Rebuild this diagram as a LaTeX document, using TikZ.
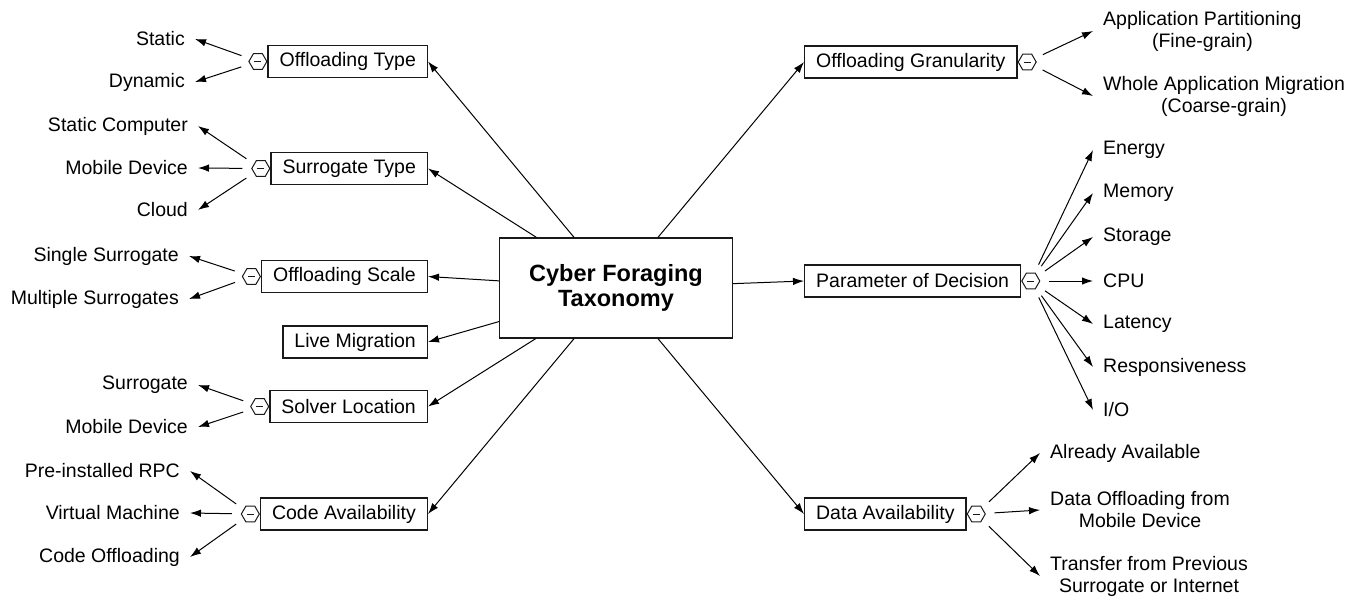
\documentclass[tikz,border=0pt]{standalone}
\usepackage{fontspec}
\setmainfont{Liberation Sans}
\usetikzlibrary{shapes.geometric, arrows.meta, positioning}

\begin{document}
\begin{tikzpicture}[x=1pt, y=-1pt,
  every node/.style={text=black, font=\fontsize{19.5}{22}\selectfont},
  root/.style={draw=black!90, line width=1.3pt, minimum width=233pt, minimum height=100pt, align=center, font=\fontsize{23.5}{25}\selectfont\bfseries},
  cat/.style={draw=black!90, line width=1.3pt, inner xsep=11.5pt, inner ysep=0pt, minimum height=32pt},
  leaf/.style={inner xsep=10pt, inner ysep=2pt, align=center},
  toggle/.style={draw=black!90, line width=1pt, regular polygon, regular polygon sides=6, minimum size=18pt, inner sep=0pt,
    path picture={\draw[line width=1pt] ([xshift=-3.5pt]path picture bounding box.center) -- ([xshift=3.5pt]path picture bounding box.center);}},
  link/.style={draw=black, line width=1pt, -{Latex[length=11pt,width=7.5pt]}},
  branch/.style={link, shorten <=9pt}]

\path[use as bounding box] (0,0) rectangle (1356,597);

% centre
\node[root] (root) at (616,288) {Cyber Foraging\\Taxonomy};

% left categories
\node[cat, anchor=east] (otype) at (428,61.5) {Offloading Type};
\node[cat, anchor=east] (stype) at (428,168.5) {Surrogate Type};
\node[cat, anchor=east] (oscale) at (428,276.5) {Offloading Scale};
\node[cat, anchor=east] (live) at (428,342) {Live Migration};
\node[cat, anchor=east] (solver) at (428,406.5) {Solver Location};
\node[cat, anchor=east] (code) at (428,514) {Code Availability};

% right categories
\node[cat, anchor=west] (gran) at (804,62) {Offloading Granularity};
\node[cat, anchor=west] (param) at (804,281) {Parameter of Decision};
\node[cat, anchor=west] (data) at (804,514) {Data Availability};

% collapse marks
\node[toggle, left=0pt of otype] (otypeT) {};
\node[toggle, left=0pt of stype] (stypeT) {};
\node[toggle, left=0pt of oscale] (oscaleT) {};
\node[toggle, left=0pt of solver] (solverT) {};
\node[toggle, left=0pt of code] (codeT) {};
\node[toggle, right=0pt of gran] (granT) {};
\node[toggle, right=0pt of param] (paramT) {};
\node[toggle, right=0pt of data] (dataT) {};

% left leaves
\node[leaf, anchor=east] (static) at (195,39) {Static};
\node[leaf, anchor=east] (dynamic) at (195,82) {Dynamic};
\node[leaf, anchor=east] (scomp) at (198,126) {Static Computer};
\node[leaf, anchor=east] (smob) at (198,168) {Mobile Device};
\node[leaf, anchor=east] (scloud) at (198,210) {Cloud};
\node[leaf, anchor=east] (single) at (189,256) {Single Surrogate};
\node[leaf, anchor=east] (multi) at (189,299) {Multiple Surrogates};
\node[leaf, anchor=east] (solsur) at (198,385) {Surrogate};
\node[leaf, anchor=east] (solmob) at (198,427) {Mobile Device};
\node[leaf, anchor=east] (rpc) at (190,471) {Pre-installed RPC};
\node[leaf, anchor=east] (vm) at (190,513) {Virtual Machine};
\node[leaf, anchor=east] (codeoff) at (190,557) {Code Offloading};

% right leaves
\node[leaf, anchor=west] (fine) at (1093,31) {Application Partitioning\\(Fine-grain)};
\node[leaf, anchor=west] (coarse) at (1093,96) {Whole Application Migration\\(Coarse-grain)};
\node[leaf, anchor=west] (energy) at (1093,150) {Energy};
\node[leaf, anchor=west] (memory) at (1093,193) {Memory};
\node[leaf, anchor=west] (storage) at (1093,237) {Storage};
\node[leaf, anchor=west] (cpu) at (1093,281) {CPU};
\node[leaf, anchor=west] (latency) at (1093,324) {Latency};
\node[leaf, anchor=west] (resp) at (1093,367) {Responsiveness};
\node[leaf, anchor=west] (io) at (1093,410) {I/O};
\node[leaf, anchor=west] (avail) at (1040,453) {Already Available};
\node[leaf, anchor=west] (dataoff) at (1040,510) {Data Offloading from\\Mobile Device};
\node[leaf, anchor=west] (transfer) at (1040,576) {Transfer from Previous\\Surrogate or Internet};

% centre to categories
\draw[link] (root) -- (otype.east);
\draw[link] (root) -- (stype.east);
\draw[link] (root) -- (oscale.east);
\draw[link] (root) -- (live.east);
\draw[link] (root) -- (solver.east);
\draw[link] (root) -- (code.east);
\draw[link] (root) -- (gran.west);
\draw[link] (root) -- (param.west);
\draw[link] (root) -- (data.west);

% categories to leaves
\draw[branch] (otypeT) -- (static.east);
\draw[branch] (otypeT) -- (dynamic.east);
\draw[branch] (stypeT) -- (scomp.east);
\draw[branch] (stypeT) -- (smob.east);
\draw[branch] (stypeT) -- (scloud.east);
\draw[branch] (oscaleT) -- (single.east);
\draw[branch] (oscaleT) -- (multi.east);
\draw[branch] (solverT) -- (solsur.east);
\draw[branch] (solverT) -- (solmob.east);
\draw[branch] (codeT) -- (rpc.east);
\draw[branch] (codeT) -- (vm.east);
\draw[branch] (codeT) -- (codeoff.east);
\draw[branch] (granT) -- (fine.west);
\draw[branch] (granT) -- (coarse.west);
\draw[branch] (paramT) -- (energy.west);
\draw[branch] (paramT) -- (memory.west);
\draw[branch] (paramT) -- (storage.west);
\draw[branch] (paramT) -- (cpu.west);
\draw[branch] (paramT) -- (latency.west);
\draw[branch] (paramT) -- (resp.west);
\draw[branch] (paramT) -- (io.west);
\draw[branch] (dataT) -- (avail.west);
\draw[branch] (dataT) -- (dataoff.west);
\draw[branch] (dataT) -- (transfer.west);

\end{tikzpicture}
\end{document}
